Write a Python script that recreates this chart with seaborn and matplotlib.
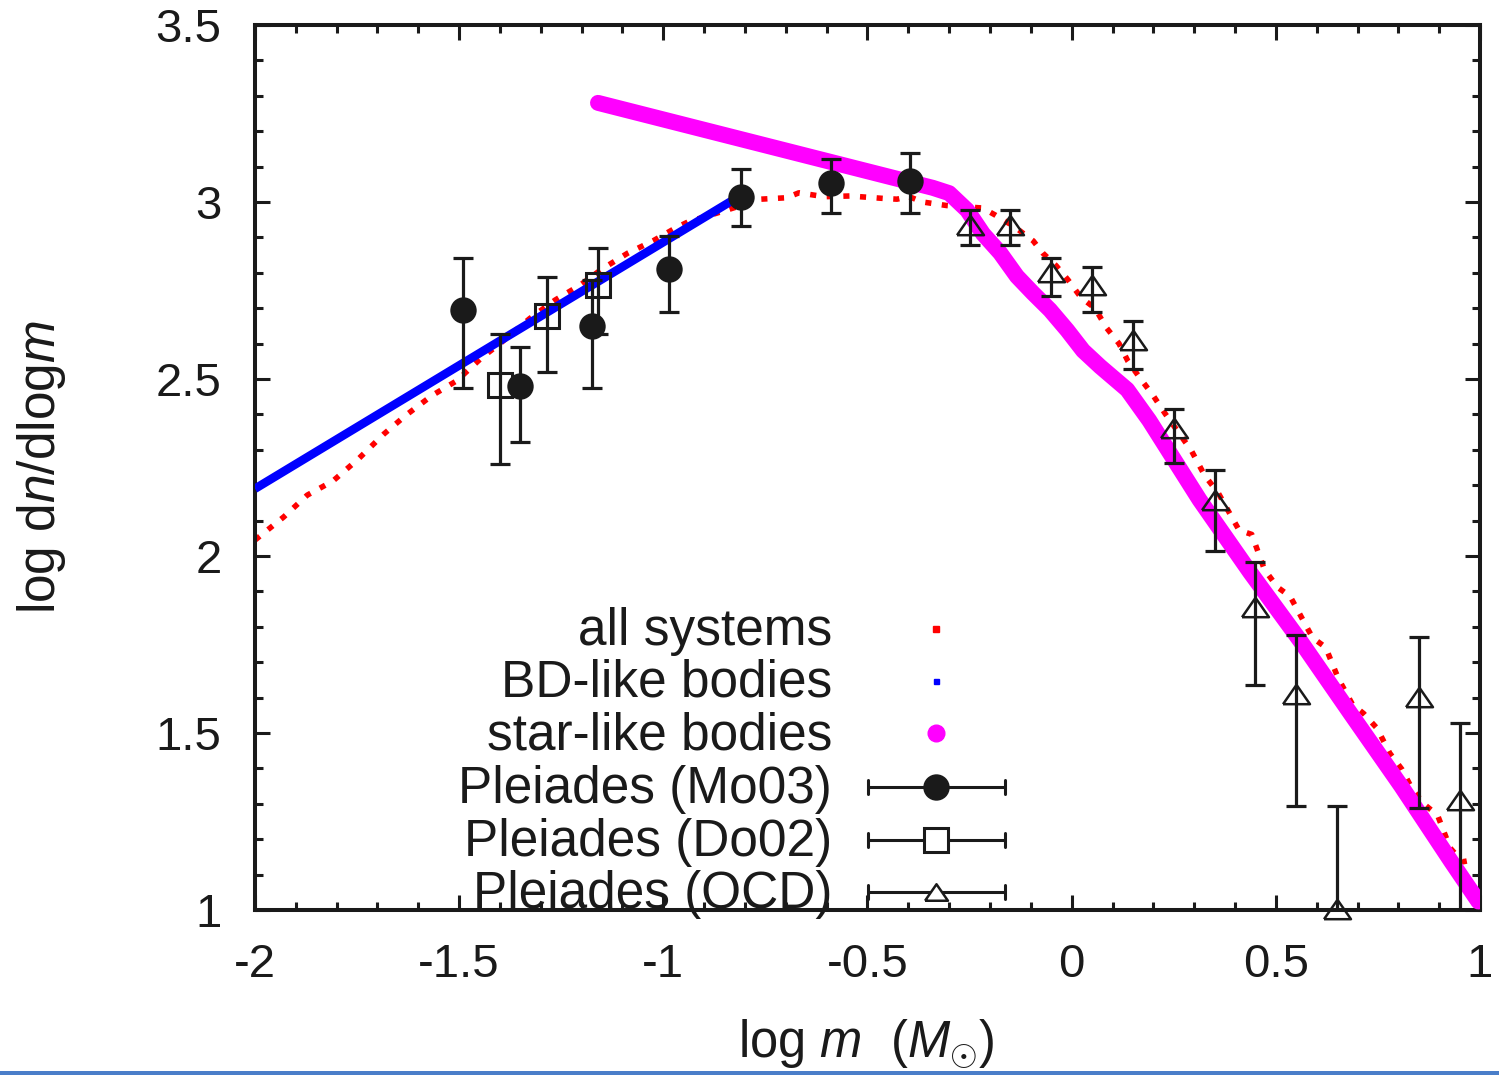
import matplotlib
matplotlib.use('Agg')
import matplotlib.pyplot as plt
import seaborn as sns
from matplotlib.ticker import MultipleLocator, FuncFormatter
from matplotlib.patches import Rectangle

# ---------------- data ----------------
all_x = [-2.0, -1.93, -1.872, -1.809, -1.747, -1.684, -1.63, -1.567, -1.506, -1.444,
         -1.40, -1.327, -1.265, -1.204, -1.151, -1.088, -1.024, -0.971, -0.939, -0.845,
         -0.761, -0.698, -0.668, -0.606, -0.543, -0.46, -0.428, -0.398, -0.365, -0.306,
         -0.218, -0.187, -0.14, -0.094, -0.071, -0.038, -0.009, 0.023, 0.057, 0.085,
         0.116, 0.138, 0.169, 0.198, 0.229, 0.293, 0.326, 0.359, 0.41, 0.441,
         0.472, 0.504, 0.535, 0.567, 0.59, 0.622, 0.653, 0.688, 0.715, 0.748,
         0.779, 0.809, 0.833, 0.863, 0.896, 0.927, 0.957, 0.989]
all_y = [2.045, 2.11, 2.172, 2.212, 2.274, 2.345, 2.398, 2.453, 2.495, 2.561,
         2.60, 2.671, 2.723, 2.765, 2.810, 2.855, 2.891, 2.926, 2.944, 2.977,
         3.008, 3.012, 3.026, 3.015, 3.017, 3.01, 3.008, 3.015, 3.0, 2.99,
         2.983, 2.963, 2.93, 2.89, 2.856, 2.82, 2.78, 2.73, 2.70, 2.645,
         2.60, 2.55, 2.50, 2.456, 2.402, 2.298, 2.227, 2.178, 2.073, 2.061,
         1.962, 1.912, 1.886, 1.818, 1.769, 1.742, 1.654, 1.58, 1.555, 1.513,
         1.443, 1.397, 1.344, 1.299, 1.268, 1.175, 1.136, 1.143]

bd_x = [-2.0, -0.83]
bd_y = [2.19, 3.005]

star_x = [-1.16, -0.34, -0.30, -0.256, -0.217, -0.175, -0.134, -0.095, -0.053, -0.011,
          0.028, 0.07, 0.136, 0.19, 0.313, 0.437, 0.56, 0.683, 0.807, 0.93, 0.996]
star_y = [3.28, 3.04, 3.025, 2.977, 2.91, 2.856, 2.79, 2.743, 2.695, 2.638,
          2.58, 2.535, 2.47, 2.383, 2.159, 1.954, 1.76, 1.555, 1.35, 1.136, 1.024]

mo03_x = [-1.49, -1.35, -1.175, -0.985, -0.81, -0.59, -0.396]
mo03_y = [2.695, 2.481, 2.650, 2.810, 3.015, 3.053, 3.060]
mo03_lo = [2.474, 2.323, 2.474, 2.688, 2.932, 2.968, 2.968]
mo03_hi = [2.841, 2.591, 2.780, 2.905, 3.093, 3.121, 3.139]

do02_x = [-1.40, -1.284, -1.161]
do02_y = [2.483, 2.679, 2.766]
do02_lo = [2.260, 2.519, 2.626]
do02_hi = [2.627, 2.787, 2.869]

ocd_x = [-0.25, -0.15, -0.05, 0.05, 0.15, 0.25, 0.35, 0.45, 0.55, 0.65, 0.85, 0.95]
ocd_y = [2.935, 2.935, 2.803, 2.766, 2.610, 2.361, 2.157, 1.855, 1.609, 1.003, 1.603, 1.311]
ocd_lo = [2.878, 2.878, 2.734, 2.689, 2.527, 2.263, 2.013, 1.636, 1.295, 0.71, 1.287, 0.90]
ocd_hi = [2.977, 2.977, 2.841, 2.815, 2.664, 2.414, 2.244, 1.983, 1.777, 1.295, 1.771, 1.529]

legend_labels = ['all systems', 'BD-like bodies', 'star-like bodies',
                 'Pleiades (Mo03)', 'Pleiades (Do02)', 'Pleiades (OCD)']
x_ticks = [-2, -1.5, -1, -0.5, 0, 0.5, 1]
y_ticks = [1, 1.5, 2, 2.5, 3, 3.5]
x_label = r'log $m$  ($M_{\odot}$)'
y_label = r'log d$n$/dlog$m$'

# ---------------- style ----------------
sns.set_theme(style='ticks')
plt.rcParams['font.family'] = ['Liberation Sans', 'DejaVu Sans']
plt.rcParams['mathtext.fontset'] = 'custom'
plt.rcParams['mathtext.rm'] = 'Liberation Sans'
plt.rcParams['mathtext.it'] = 'Liberation Sans:italic'
plt.rcParams['mathtext.bf'] = 'Liberation Sans:bold'

RED, BLUE, MAG = '#ff0000', '#0000ff', '#ff00ff'

fig = plt.figure(figsize=(14.99, 10.75), dpi=100)
fig.patch.set_facecolor('white')
ax = fig.add_axes([255 / 1499, 1 - 910 / 1075, 1225 / 1499, 885 / 1075])
ax.set_facecolor('white')

# curves
sns.lineplot(x=all_x, y=all_y, ax=ax, color=RED, lw=4.0, sort=False, estimator=None,
             linestyle=(0, (1.1, 1.9)), dash_capstyle='butt', zorder=2)
sns.lineplot(x=bd_x, y=bd_y, ax=ax, color=BLUE, lw=6.2, sort=False, estimator=None,
             solid_capstyle='butt', zorder=3)
sns.lineplot(x=star_x, y=star_y, ax=ax, color=MAG, lw=11.5, sort=False, estimator=None,
             solid_capstyle='round', solid_joinstyle='round', zorder=4)

# error bars
ebkw = dict(fmt='none', ecolor='k', elinewidth=2.3, capsize=7, capthick=2.3, zorder=5)
for xs, ys, lo, hi in [(mo03_x, mo03_y, mo03_lo, mo03_hi),
                       (do02_x, do02_y, do02_lo, do02_hi),
                       (ocd_x, ocd_y, ocd_lo, ocd_hi)]:
    yerr = [[y - l for y, l in zip(ys, lo)], [h - y for y, h in zip(ys, hi)]]
    ax.errorbar(xs, ys, yerr=yerr, **ebkw)

tri = [(-1, -0.72), (1, -0.72), (0, 0.72), (-1, -0.72)]
ax.plot(mo03_x, mo03_y, 'o', ms=17.5, mfc='k', mec='k', mew=1.5, ls='none', zorder=6, clip_on=False)
ax.plot(do02_x, do02_y, 's', ms=17.3, mfc='none', mec='k', mew=2.2, ls='none', zorder=6, clip_on=False)
ax.plot(ocd_x, ocd_y, marker=tri, ms=19.4, mfc='none', mec='k', mew=1.8, ls='none', zorder=6, clip_on=False)

# axes
ax.set_xlim(-2, 1)
ax.set_ylim(1, 3.5)
ax.set_xticks(x_ticks)
ax.set_yticks(y_ticks)
ax.xaxis.set_minor_locator(MultipleLocator(0.1))
ax.yaxis.set_minor_locator(MultipleLocator(0.1))
fmt = FuncFormatter(lambda v, p: f'{v:g}')
ax.xaxis.set_major_formatter(fmt)
ax.yaxis.set_major_formatter(fmt)
ax.tick_params(which='both', direction='in', top=True, right=True, color='k',
               width=2.2, labelsize=34, labelcolor='k', pad=24)
ax.tick_params(which='major', length=11)
ax.tick_params(which='minor', length=5.8)
for s in ax.spines.values():
    s.set_linewidth(2.9)
    s.set_color('k')
    s.set_visible(True)
ax.grid(False)
ax.set_xlabel('')
ax.set_ylabel('')

fig.text(0.578, 1 - 1057 / 1075, x_label, fontsize=36.5, ha='center', va='baseline', color='k')
fig.text(55 / 1499, 1 - 467.5 / 1075, y_label, fontsize=37, rotation=90,
         rotation_mode='anchor', ha='center', va='baseline', color='k')

# legend (gnuplot style: right-aligned text, sample on the right)
rows = [0.3175, 0.2588, 0.200, 0.139, 0.0791, 0.0203]
tx, mx, bx0, bx1 = 0.471, 0.556, 0.5004, 0.612
base_off = 16 / 885
cap = 7 / 885
T = ax.transAxes
for lab, ry in zip(legend_labels, rows):
    ax.text(tx, ry - base_off, lab, transform=T, ha='right', va='baseline',
            fontsize=37, color='k', zorder=8)
ax.plot([mx], [rows[0]], 's', ms=4.5, color=RED, transform=T, zorder=8)
ax.plot([mx], [rows[1]], 's', ms=3.6, color=BLUE, transform=T, zorder=8)
ax.plot([mx], [rows[2]], 'o', ms=12, color=MAG, transform=T, zorder=8)
for ry in rows[3:]:
    ax.plot([bx0, bx1], [ry, ry], color='k', lw=2.2, transform=T, zorder=8, solid_capstyle='butt')
    for xx in (bx0, bx1):
        ax.plot([xx, xx], [ry - cap, ry + cap], color='k', lw=2.2, transform=T, zorder=8)
ax.plot([mx], [rows[3]], 'o', ms=17.5, mfc='k', mec='k', mew=1.5, transform=T, zorder=9)
ax.plot([mx], [rows[4]], 's', ms=17.3, mfc='white', mec='k', mew=2.2, transform=T, zorder=9)
ax.plot([mx], [rows[5]], marker=tri, ms=16.5, mfc='white', mec='k', mew=1.8, transform=T, zorder=9)

# slide border line at the bottom
fig.add_artist(Rectangle((0, 0), 1, 4.3 / 1075, transform=fig.transFigure,
                         facecolor='#4a7ec9', edgecolor='none', zorder=20))

fig.savefig('out.png', dpi=100, facecolor='white')
